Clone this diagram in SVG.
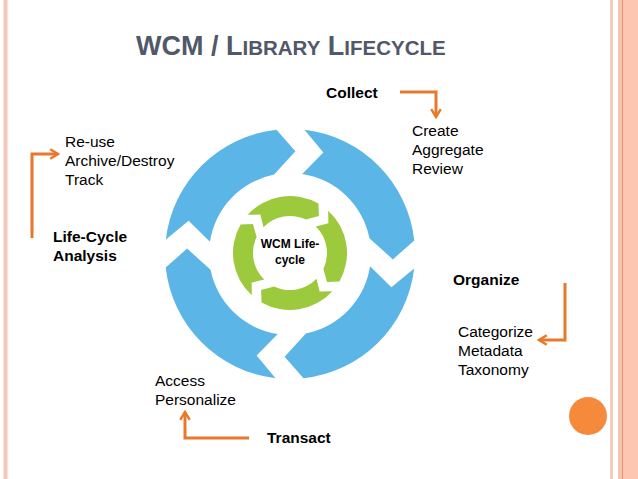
<svg xmlns="http://www.w3.org/2000/svg" xmlns:xlink="http://www.w3.org/1999/xlink" width="638" height="479" viewBox="0 0 638 479">
<style>
.t{font-family:"Liberation Sans",Arial,sans-serif;font-size:15.5px;fill:#000}
.b{font-family:"Liberation Sans",Arial,sans-serif;font-size:15.5px;font-weight:bold;fill:#000}
.title{font-family:"Liberation Sans",Arial,sans-serif;font-weight:bold;fill:#515869}
.arr{fill:none;stroke:#E8792B;stroke-width:3;marker-end:url(#ah)}
.blue{fill:#5BB5E6}
.green{fill:#9DC93D}
</style>
<defs>
<marker id="ah" viewBox="0 0 10 10" refX="8" refY="5" markerWidth="4" markerHeight="4" orient="auto" markerUnits="strokeWidth">
<path d="M1.5,1 L8,5 L1.5,9" fill="none" stroke="#E8792B" stroke-width="2"/>
</marker>
<path id="seg" d="M14.52,-124.15 A125,125 0 0 1 124.27,-13.51 L102.86,5.39 L79.43,-15.87 A81,81 0 0 0 12.21,-80.07 L33.35,-101.39 Z"/>
<path id="gseg" d="M4,-56.86 A57,57 0 0 1 56.44,-8 L47,0 L36.12,-8 A37,37 0 0 0 4,-36.78 L12,-47 Z"/>
</defs>
<rect width="638" height="479" fill="#fff"/>
<g id="border">
<rect x="3.5" y="0" width="4" height="479" fill="#F3C8B8"/>
<rect x="610" y="0" width="3" height="479" fill="#F6CDBD"/>
<rect x="618" y="0" width="4" height="479" fill="#F7C3AE"/>
<rect x="622" y="0" width="1.5" height="479" fill="#E99572"/>
<rect x="623.5" y="0" width="14.5" height="479" fill="#FCC6B1"/>
</g>
<text class="title" x="136" y="55"><tspan font-size="27">WCM / L</tspan><tspan font-size="20.5">IBRARY</tspan><tspan font-size="27"> L</tspan><tspan font-size="20.5">IFECYCLE</tspan></text>
<g id="outer-cycle" class="blue" transform="translate(290,254)">
<use xlink:href="#seg"/>
<use xlink:href="#seg" transform="rotate(90)"/>
<use xlink:href="#seg" transform="rotate(180)"/>
<use xlink:href="#seg" transform="rotate(270)"/>
</g>
<g id="inner-cycle" class="green" transform="translate(290,253)">
<use xlink:href="#gseg" transform="rotate(-52)"/>
<use xlink:href="#gseg" transform="rotate(38)"/>
<use xlink:href="#gseg" transform="rotate(128)"/>
<use xlink:href="#gseg" transform="rotate(218)"/>
</g>
<g id="center-label">
<text class="b" style="font-size:12px" x="290" y="248" text-anchor="middle">WCM Life-</text>
<text class="b" style="font-size:12px" x="290" y="264" text-anchor="middle">cycle</text>
</g>
<g id="collect">
<text class="b" x="326" y="98">Collect</text>
<text class="t" x="412" y="136">Create</text>
<text class="t" x="412" y="155">Aggregate</text>
<text class="t" x="412" y="174">Review</text>
</g>
<g id="organize">
<text class="b" x="453" y="285">Organize</text>
<text class="t" x="458" y="337">Categorize</text>
<text class="t" x="458" y="356">Metadata</text>
<text class="t" x="458" y="375">Taxonomy</text>
</g>
<g id="transact">
<text class="b" x="267" y="443">Transact</text>
<text class="t" x="155" y="386">Access</text>
<text class="t" x="155" y="405">Personalize</text>
</g>
<g id="lifecycle">
<text class="b" x="53" y="242">Life-Cycle</text>
<text class="b" x="53" y="261">Analysis</text>
<text class="t" x="65" y="147">Re-use</text>
<text class="t" x="65" y="166">Archive/Destroy</text>
<text class="t" x="65" y="185">Track</text>
</g>
<g id="connectors">
<path class="arr" d="M400,92 H436 V117"/>
<path class="arr" d="M32,238 V154 H58"/>
<path class="arr" d="M565,283 V340 H539"/>
<path class="arr" d="M249,438 H185 V412"/>
</g>
<circle id="dot" cx="588" cy="416" r="19" fill="#F58A3D"/>
</svg>
